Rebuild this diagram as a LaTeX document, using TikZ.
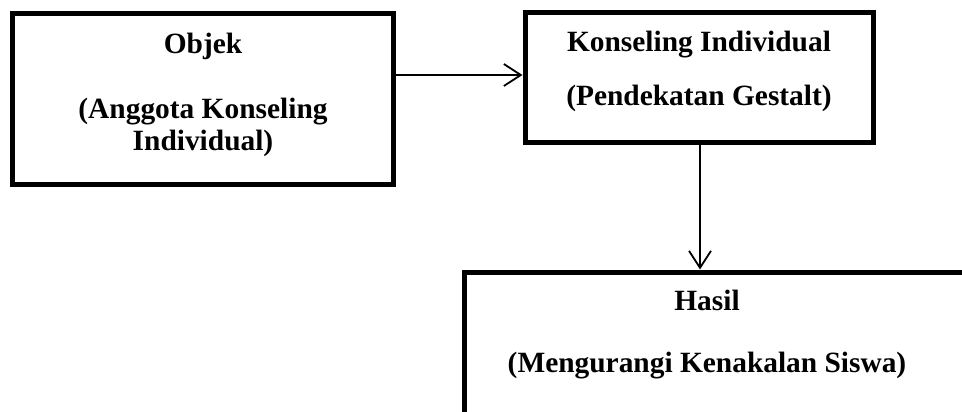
\documentclass[tikz,border=0pt]{standalone}
\usepackage{fontspec}
\setmainfont{Liberation Serif}
\usetikzlibrary{arrows.meta}
\begin{document}
\begin{tikzpicture}[x=1pt,y=-1pt,
  box/.style={draw=black,line width=5pt,rectangle,inner sep=0pt,fill=none},
  lbl/.style={anchor=base,inner sep=0pt,font=\fontsize{29.4}{32}\selectfont\bfseries},
  arr/.style={line width=1.8pt,-{Straight Barb[length=17pt,width=22pt,line width=1.8pt]}}]
\useasboundingbox (0,0) rectangle (962,412);
\clip (0,0) rectangle (962,412);
\fill[white] (0,0) rectangle (962,412);
\node[box,minimum width=381.2pt,minimum height=170pt] (b1) at (203.1,99) {};
\node[box,minimum width=348pt,minimum height=129.5pt] (b2) at (699,77.75) {};
\node[box,minimum width=536pt,minimum height=178pt] (b3) at (732,361) {};
\node[lbl] (t1a) at (203,53.3) {Objek};
\node[lbl] (t1b) at (203,118) {(Anggota Konseling};
\node[lbl] (t1c) at (203,150) {Individual)};
\node[lbl] (t2a) at (699,52) {Konseling Individual};
\node[lbl] (t2b) at (699,106) {(Pendekatan Gestalt)};
\node[lbl] (t3a) at (707,310) {Hasil};
\node[lbl] (t3b) at (707,372) {(Mengurangi Kenakalan Siswa)};
\draw[arr] ([yshift=2.75pt]b2.west -| b1.east) -- ([yshift=2.75pt]b2.west);
\draw[arr] ([xshift=1pt]b2.south) -- ([xshift=1pt]b2.south |- b3.north);
\end{tikzpicture}
\end{document}
